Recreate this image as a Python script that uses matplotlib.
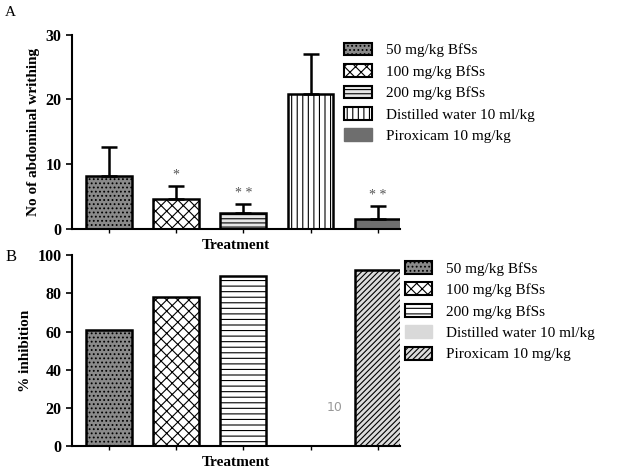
import numpy as np
import matplotlib
matplotlib.use("Agg")
import matplotlib.pyplot as plt
from matplotlib.patches import Patch

plt.rcParams['font.family'] = ['Liberation Serif', 'DejaVu Serif']
plt.rcParams['hatch.linewidth'] = 0.8

groups = ["50 mg/kg BfSs", "100 mg/kg BfSs", "200 mg/kg BfSs",
          "Distilled water 10 ml/kg", "Piroxicam 10 mg/kg"]

# panel A: writhing counts, mean and upper SD
writhing = [8.1, 4.6, 2.5, 20.8, 1.5]
writhing_err = [4.6, 2.0, 1.4, 6.2, 2.1]
stars = ["", "*", "**", "", "**"]
star_y = [0, 8.3, 5.4, 0, 5.1]

# panel B: % inhibition (distilled water has none)
inhibition = [61, 78, 89, 0, 92]

x = np.arange(len(groups))

styles_a = [
    dict(facecolor="#8a8a8a", hatch="...."),
    dict(facecolor="white", hatch="xxx"),
    dict(facecolor="#e6e6e6", hatch="----"),
    dict(facecolor="white", hatch="|||"),
    dict(facecolor="#6e6e6e", hatch=""),
]
styles_b = [
    dict(facecolor="#8a8a8a", hatch="...."),
    dict(facecolor="white", hatch="xxx"),
    dict(facecolor="white", hatch="---"),
    dict(facecolor="#d9d9d9", hatch=""),
    dict(facecolor="#dcdcdc", hatch="//////"),
]


def style_axis(ax, ylabel):
    ax.spines["top"].set_visible(False)
    ax.spines["right"].set_visible(False)
    ax.spines["left"].set_linewidth(1.5)
    ax.spines["bottom"].set_linewidth(1.5)
    ax.set_xlim(-0.55, 4.33)
    ax.set_xticks(x)
    ax.set_xticklabels([""] * len(x))
    ax.tick_params(axis="x", length=3, width=1)
    ax.tick_params(axis="y", length=4, width=1.2, labelsize=11.5)
    for lbl in ax.get_yticklabels():
        lbl.set_fontweight("bold")
    ax.set_ylabel(ylabel, fontsize=11, fontweight="bold")
    ax.set_xlabel("Treatment", fontsize=11, fontweight="bold", labelpad=1)


fig = plt.figure(figsize=(6.36, 4.70), dpi=100)
axA = fig.add_axes([0.113, 0.513, 0.516, 0.413])
axB = fig.add_axes([0.113, 0.051, 0.516, 0.406])

legend_kw = dict(frameon=False, fontsize=11, handlelength=1.8,
                 handleheight=0.9, labelspacing=0.45, handletextpad=0.9,
                 borderpad=0, borderaxespad=0)

# panel A
for i in range(len(x)):
    axA.bar(x[i], writhing[i], width=0.68, edgecolor="black", linewidth=1.8,
            label=groups[i], **styles_a[i])
axA.errorbar(x, writhing, yerr=[np.zeros(len(x)), writhing_err], fmt="none",
             ecolor="black", elinewidth=1.8, capsize=6, capthick=1.8)
for i, s in enumerate(stars):
    if s:
        axA.text(x[i], star_y[i], " ".join(s), ha="center", va="center",
                 fontsize=10, color="#555555")
axA.set_ylim(0, 30)
axA.set_yticks([0, 10, 20, 30])
style_axis(axA, "No of abdominal writhing")
handles_a = [Patch(edgecolor="black", linewidth=1.5, label=g, **styles_a[i])
             for i, g in enumerate(groups)]
handles_a[4] = Patch(facecolor="#6e6e6e", edgecolor="#6e6e6e", label=groups[4])
axA.legend(handles=handles_a, loc="upper left", bbox_to_anchor=(0.83, 0.96),
           **legend_kw)

# panel B
for i in range(len(x)):
    if inhibition[i] > 0:
        axB.bar(x[i], inhibition[i], width=0.68, edgecolor="black",
                linewidth=1.8, **styles_b[i])
axB.text(x[3] + 0.35, 20, "10", ha="center", va="center", fontsize=9,
         color="#999999", family="DejaVu Sans")
axB.set_ylim(0, 100)
axB.set_yticks([0, 20, 40, 60, 80, 100])
style_axis(axB, "% inhibition")
handles_b = [Patch(edgecolor="black", linewidth=1.5, label=g, **styles_b[i])
             for i, g in enumerate(groups)]
handles_b[3] = Patch(facecolor="#d9d9d9", edgecolor="#d9d9d9", label=groups[3])
axB.legend(handles=handles_b, loc="upper left", bbox_to_anchor=(1.015, 0.97),
           **legend_kw)

fig.text(0.008, 0.965, "A", fontsize=11)
fig.text(0.008, 0.445, "B", fontsize=12)

fig.savefig("out.png", dpi=100)
